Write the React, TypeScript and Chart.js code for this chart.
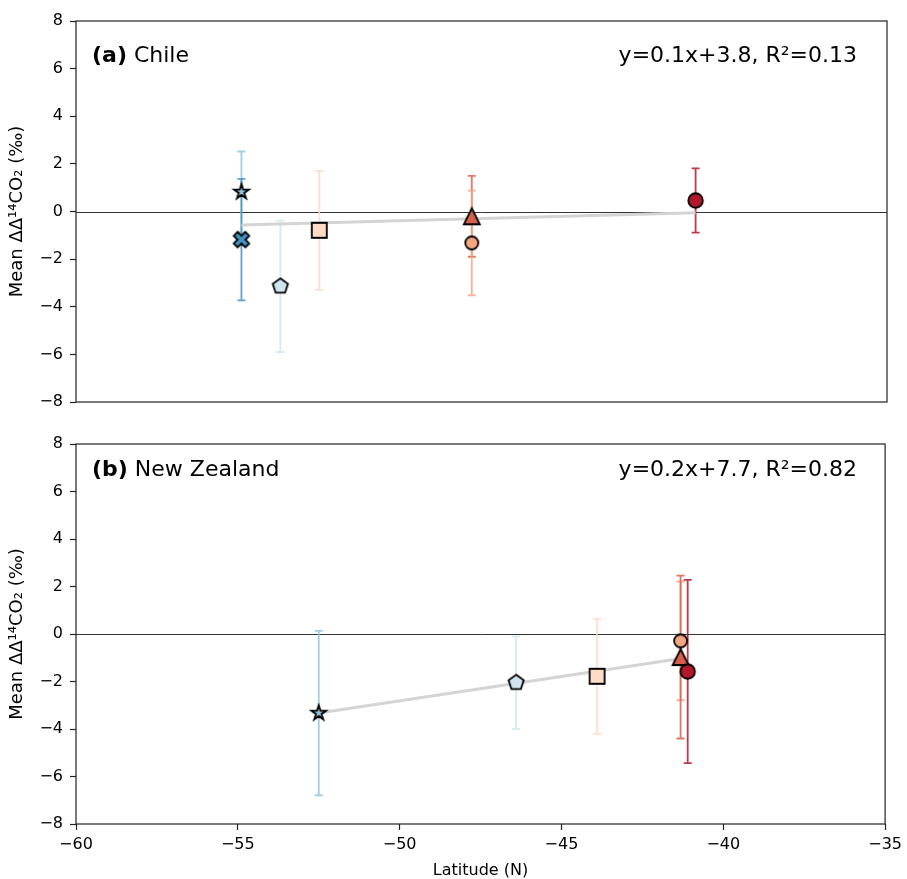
import React, { useEffect, useRef } from 'react';
import { Chart, registerables } from 'chart.js';

Chart.register(...registerables);
Chart.defaults.font.family = "'DejaVu Sans', sans-serif";
Chart.defaults.color = '#000';

// ---------------- data ----------------
const X_MIN = -60;
const X_MAX = -35;
const X_STEP = 5;
const Y_MIN = -8;
const Y_MAX = 8;
const Y_STEP = 2;

// Panel (a) Chile
const chileSites = ['star', 'x', 'pentagon', 'square', 'triangle', 'circle', 'circleDark'];
const chileLat = [-54.9, -54.9, -53.7, -52.5, -47.8, -47.8, -40.9];
const chileMean = [0.82, -1.18, -3.14, -0.79, -0.2, -1.32, 0.46];
const chileErr = [1.7, 2.55, 2.76, 2.5, 1.7, 2.2, 1.35];
const chileFitLat = [-54.9, -40.9];
const chileFitVal = [-0.57, -0.05];

// Panel (b) New Zealand
const nzSites = ['star', 'pentagon', 'square', 'circle', 'triangle', 'circleDark'];
const nzLat = [-52.5, -46.4, -43.9, -41.32, -41.32, -41.1];
const nzMean = [-3.33, -2.05, -1.78, -0.29, -0.97, -1.58];
const nzErr = [3.46, 1.95, 2.42, 2.5, 3.43, 3.86];
const nzFitLat = [-52.5, -41.25];
const nzFitVal = [-3.33, -1.02];

const Y_LABEL = 'Mean ΔΔ¹⁴CO₂ (‰)';
const X_LABEL = 'Latitude (N)';

// ---------------- styles ----------------
const MARKER_STYLE: Record<string, { shape: string; size: number; fill: string }> = {
  star: { shape: 'star', size: 15.5, fill: '#92c5de' },
  x: { shape: 'x', size: 15.5, fill: '#4393c3' },
  pentagon: { shape: 'pentagon', size: 16, fill: '#d1e5f0' },
  square: { shape: 'square', size: 15, fill: '#fddbc7' },
  triangle: { shape: 'triangle', size: 16, fill: '#d6604d' },
  circle: { shape: 'circle', size: 13, fill: '#f4a582' },
  circleDark: { shape: 'circle', size: 14.5, fill: '#b2182b' },
};

function hexToRgba(hex: string, a: number) {
  const n = parseInt(hex.slice(1), 16);
  return `rgba(${(n >> 16) & 255},${(n >> 8) & 255},${n & 255},${a})`;
}

function makeMarker(key: string): HTMLCanvasElement {
  const { shape, size, fill } = MARKER_STYLE[key];
  const lw = 1.8;
  const S = Math.ceil(size + lw * 2 + 6);
  const c = document.createElement('canvas');
  c.width = S;
  c.height = S;
  const g = c.getContext('2d')!;
  const cx = S / 2;
  const cy = S / 2;
  const r = size / 2;
  g.beginPath();
  if (shape === 'circle') {
    g.arc(cx, cy, r, 0, Math.PI * 2);
  } else if (shape === 'square') {
    g.rect(cx - r, cy - r, size, size);
  } else if (shape === 'triangle') {
    g.moveTo(cx, cy - r);
    g.lineTo(cx + r, cy + r);
    g.lineTo(cx - r, cy + r);
    g.closePath();
  } else if (shape === 'pentagon') {
    for (let k = 0; k < 5; k++) {
      const a = -Math.PI / 2 + (k * 2 * Math.PI) / 5;
      const px = cx + r * Math.cos(a);
      const py = cy + r * Math.sin(a);
      if (k === 0) g.moveTo(px, py);
      else g.lineTo(px, py);
    }
    g.closePath();
  } else if (shape === 'star') {
    for (let k = 0; k < 10; k++) {
      const rr = k % 2 ? r * 0.381966 : r;
      const a = -Math.PI / 2 + (k * Math.PI) / 5;
      const px = cx + rr * Math.cos(a);
      const py = cy + rr * Math.sin(a);
      if (k === 0) g.moveTo(px, py);
      else g.lineTo(px, py);
    }
    g.closePath();
  } else if (shape === 'x') {
    const pts = [
      [-1, -2], [0, -1], [1, -2], [2, -1], [1, 0], [2, 1],
      [1, 2], [0, 1], [-1, 2], [-2, 1], [-1, 0], [-2, -1],
    ];
    pts.forEach(([px, py], k) => {
      const X = cx + (px * r) / 2;
      const Y = cy + (py * r) / 2;
      if (k === 0) g.moveTo(X, Y);
      else g.lineTo(X, Y);
    });
    g.closePath();
  }
  g.fillStyle = fill;
  g.fill();
  g.lineWidth = lw;
  g.lineJoin = 'miter';
  g.strokeStyle = '#000';
  g.stroke();
  return c;
}

const fmt = (v: number | string) => String(v).replace('-', '\u2212');

const errorBarPlugin = {
  id: 'errorBars',
  beforeDatasetsDraw(chart: any, _args: any, opts: any) {
    const { ctx, chartArea: ca } = chart;
    const xs = chart.scales.x;
    const ys = chart.scales.y;
    ctx.save();
    // zero line
    const y0 = Math.round(ys.getPixelForValue(0)) + 0.5;
    ctx.strokeStyle = '#333';
    ctx.lineWidth = 1;
    ctx.beginPath();
    ctx.moveTo(ca.left, y0);
    ctx.lineTo(ca.right, y0);
    ctx.stroke();
    const cap = 4;
    opts.lat.forEach((lat: number, i: number) => {
      const px = xs.getPixelForValue(lat);
      const top = ys.getPixelForValue(opts.mean[i] + opts.err[i]);
      const bot = ys.getPixelForValue(opts.mean[i] - opts.err[i]);
      ctx.strokeStyle = hexToRgba(MARKER_STYLE[opts.sites[i]].fill, 0.85);
      ctx.lineWidth = 1.8;
      ctx.beginPath();
      ctx.moveTo(px, top);
      ctx.lineTo(px, bot);
      ctx.moveTo(px - cap, top);
      ctx.lineTo(px + cap, top);
      ctx.moveTo(px - cap, bot);
      ctx.lineTo(px + cap, bot);
      ctx.stroke();
    });
    ctx.restore();
  },
};

const framePlugin = {
  id: 'frameText',
  afterDraw(chart: any, _args: any, opts: any) {
    const { ctx, chartArea: ca } = chart;
    ctx.save();
    ctx.strokeStyle = '#222';
    ctx.lineWidth = 1.2;
    ctx.strokeRect(ca.left, ca.top, ca.right - ca.left, ca.bottom - ca.top);
    // panel title
    ctx.fillStyle = '#000';
    ctx.textBaseline = 'alphabetic';
    ctx.textAlign = 'left';
    ctx.font = "bold 22px 'DejaVu Sans'";
    ctx.fillText(opts.tag, opts.titleX, opts.baseline);
    const w = ctx.measureText(opts.tag).width;
    ctx.font = "22px 'DejaVu Sans'";
    ctx.fillText(' ' + opts.name, opts.titleX + w, opts.baseline);
    ctx.textAlign = 'right';
    ctx.fillText(opts.eqn, opts.eqnRight, opts.baseline);
    ctx.restore();
  },
};

function buildConfig(
  sites: string[],
  lat: number[],
  mean: number[],
  err: number[],
  fitLat: number[],
  fitVal: number[],
  bottomPanel: boolean,
  tag: string,
  name: string,
  eqn: string,
  baseline: number
): any {
  const grid = {
    drawOnChartArea: false,
    drawTicks: true,
    tickLength: 6,
    tickColor: '#222',
    tickWidth: 1.2,
  };
  const xScale: any = {
    type: 'linear',
    display: bottomPanel,
    min: X_MIN,
    max: X_MAX,
    ticks: {
      stepSize: X_STEP,
      color: '#000',
      font: { size: 16 },
      padding: 5,
      maxRotation: 0,
      callback: (v: number) => fmt(v),
    },
    grid,
    border: { display: false },
    title: {
      display: true,
      text: X_LABEL,
      color: '#000',
      font: { size: 16, lineHeight: 1 },
      padding: { top: 0, bottom: 0 },
    },
  };
  if (bottomPanel) {
    xScale.afterFit = (s: any) => {
      s.height = 55;
    };
  }
  return {
    type: 'scatter',
    data: {
      datasets: [
        {
          data: lat.map((x, i) => ({ x, y: mean[i] })),
          pointStyle: sites.map((s) => makeMarker(s)),
          pointRadius: 8,
          order: 0,
        },
        {
          data: fitLat.map((x, i) => ({ x, y: fitVal[i] })),
          showLine: true,
          borderColor: '#d4d4d4',
          borderWidth: 3,
          pointRadius: 0,
          order: 1,
        },
      ],
    },
    options: {
      responsive: false,
      devicePixelRatio: 1,
      animation: false,
      events: [],
      layout: {
        padding: bottomPanel
          ? { top: 24, right: 20, bottom: 0, left: 0 }
          : { top: 21, right: 20, bottom: 18, left: 0 },
      },
      plugins: {
        legend: { display: false },
        tooltip: { enabled: false },
        errorBars: { sites, lat, mean, err },
        frameText: { tag, name, eqn, baseline, titleX: 92, eqnRight: 857 },
      },
      scales: {
        x: xScale,
        y: {
          type: 'linear',
          min: Y_MIN,
          max: Y_MAX,
          ticks: {
            stepSize: Y_STEP,
            color: '#000',
            font: { size: 16 },
            padding: 7,
            callback: (v: number) => fmt(v),
          },
          grid,
          border: { display: false },
          title: {
            display: true,
            text: Y_LABEL,
            color: '#000',
            font: { size: 18, lineHeight: 1.2 },
            padding: { top: 7, bottom: 0 },
          },
          afterFit: (s: any) => {
            s.width = 76;
          },
        },
      },
    },
    plugins: [errorBarPlugin, framePlugin],
  };
}

export default function App() {
  const refA = useRef<HTMLCanvasElement>(null);
  const refB = useRef<HTMLCanvasElement>(null);

  useEffect(() => {
    const a = new Chart(
      refA.current!,
      buildConfig(chileSites, chileLat, chileMean, chileErr, chileFitLat, chileFitVal, false,
        '(a)', 'Chile', 'y=0.1x+3.8, R²=0.13', 61.5)
    );
    const b = new Chart(
      refB.current!,
      buildConfig(nzSites, nzLat, nzMean, nzErr, nzFitLat, nzFitVal, true,
        '(b)', 'New Zealand', 'y=0.2x+7.7, R²=0.82', 55.7)
    );
    return () => {
      a.destroy();
      b.destroy();
    };
  }, []);

  return (
    <div style={{ position: 'absolute', left: 0, top: 0, width: 907, height: 879, background: '#fff' }}>
      <canvas
        ref={refA}
        width={907}
        height={420}
        style={{ position: 'absolute', left: 0, top: 0, width: 907, height: 420 }}
      />
      <canvas
        ref={refB}
        width={907}
        height={459}
        style={{ position: 'absolute', left: 0, top: 420, width: 907, height: 459 }}
      />
    </div>
  );
}
